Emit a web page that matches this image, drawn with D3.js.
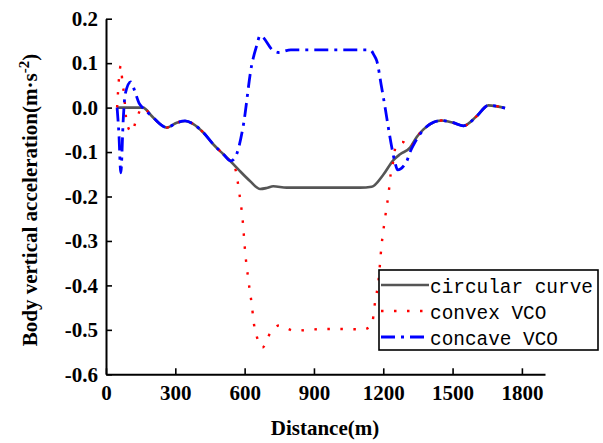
<!DOCTYPE html>
<html>
<head>
<meta charset="utf-8">
<script src="https://cdn.jsdelivr.net/npm/d3@7"></script>
<style>
  html, body { margin: 0; padding: 0; background: #fff; }
  svg { display: block; }
  .tick text { font-family: 'Liberation Serif', 'Times New Roman', serif !important; font-weight: bold !important; font-size: 21px !important; }
</style>
</head>
<body>
<svg id="chart" width="603" height="443"></svg>
<script>
// ---- data ----
const xTicks = [0, 300, 600, 900, 1200, 1500, 1800];
const yTicks = [0.2, 0.1, 0.0, -0.1, -0.2, -0.3, -0.4, -0.5, -0.6];
const seriesNames = ["circular curve", "convex VCO", "concave VCO"];

const circularDist = [48, 100, 160, 198, 234, 263, 306, 342, 378, 421, 465, 508, 551, 580, 623, 667, 695, 724, 782, 900, 1000, 1100, 1150, 1200, 1244, 1273, 1316, 1345, 1374, 1403, 1453, 1503, 1547, 1605, 1655, 1727];
const circularAcc  = [0, 0, 0, -0.019, -0.037, -0.045, -0.034, -0.030, -0.037, -0.056, -0.083, -0.105, -0.127, -0.143, -0.165, -0.183, -0.181, -0.177, -0.180, -0.180, -0.180, -0.180, -0.178, -0.151, -0.118, -0.105, -0.090, -0.066, -0.049, -0.037, -0.029, -0.034, -0.041, -0.019, 0.005, -0.001];

const convexDist = [48, 64, 70, 78, 90, 111, 133, 157, 198, 234, 263, 306, 342, 378, 421, 465, 508, 540, 558, 577, 592, 602, 616, 631, 641, 655, 677, 710, 750, 815, 900, 1000, 1114, 1150, 1165, 1179, 1193, 1208, 1225, 1232, 1244, 1254, 1283, 1316, 1345, 1374, 1403, 1453, 1503, 1547, 1605, 1655, 1727];
const convexAcc  = [0, 0.094, 0.063, 0.030, -0.035, -0.055, -0.024, 0, -0.019, -0.037, -0.045, -0.034, -0.030, -0.037, -0.056, -0.083, -0.105, -0.122, -0.135, -0.192, -0.256, -0.323, -0.387, -0.444, -0.489, -0.519, -0.540, -0.508, -0.490, -0.502, -0.499, -0.498, -0.499, -0.489, -0.436, -0.391, -0.308, -0.248, -0.184, -0.150, -0.119, -0.087, -0.077, -0.090, -0.066, -0.049, -0.037, -0.029, -0.034, -0.041, -0.019, 0.005, -0.001];

const concaveDist = [48, 56, 64, 75, 83, 107, 124, 143, 158, 198, 234, 263, 306, 342, 378, 421, 465, 508, 540, 558, 594, 630, 652, 667, 724, 746, 800, 900, 1000, 1100, 1143, 1160, 1172, 1193, 1208, 1222, 1237, 1251, 1262, 1302, 1316, 1330, 1359, 1403, 1453, 1503, 1547, 1605, 1655, 1727];
const concaveAcc  = [0, -0.060, -0.147, -0.023, 0.030, 0.058, 0.038, 0.010, 0, -0.019, -0.037, -0.045, -0.034, -0.030, -0.037, -0.056, -0.083, -0.105, -0.120, -0.113, -0.041, 0.094, 0.139, 0.162, 0.128, 0.124, 0.130, 0.130, 0.130, 0.130, 0.130, 0.118, 0.105, 0.045, 0.0, -0.045, -0.090, -0.124, -0.140, -0.120, -0.100, -0.085, -0.060, -0.037, -0.029, -0.034, -0.041, -0.019, 0.005, -0.001];

// ---- drawing ----
const svg = d3.select("#chart");
const x = d3.scaleLinear().domain([0, 1900]).range([106, 545]);
const y = d3.scaleLinear().domain([-0.6, 0.2]).range([374.3, 18.7]);

const serif = "'Liberation Serif', 'Times New Roman', serif";
const mono = "'Liberation Mono', 'DejaVu Sans Mono', monospace";

const line = d3.line().x(d => x(d[0])).y(d => y(d[1])).curve(d3.curveMonotoneX);
const zip = (a, b) => a.map((v, i) => [v, b[i]]);

const styles = [
  { color: "#555555", width: 2.6, dash: null },
  { color: "#ff0000", width: 2.4, dash: "2.5,10.5" },
  { color: "#0000ff", width: 2.8, dash: "14,6,3,6" }
];
const series = [
  zip(circularDist, circularAcc),
  zip(convexDist, convexAcc),
  zip(concaveDist, concaveAcc)
];

series.forEach((s, i) => {
  const st = styles[i];
  const p = svg.append("path")
    .datum(s)
    .attr("d", line)
    .attr("fill", "none")
    .attr("stroke", st.color)
    .attr("stroke-width", st.width)
    .attr("stroke-linejoin", "round");
  if (st.dash) p.attr("stroke-dasharray", st.dash);
});

// axes
const yAxis = d3.axisLeft(y)
  .tickValues(yTicks)
  .tickFormat(d => d.toFixed(1))
  .tickSizeInner(-6)
  .tickSizeOuter(0)
  .tickPadding(8);
const gy = svg.append("g").attr("transform", "translate(106,0)").call(yAxis);

const xAxis = d3.axisBottom(x)
  .tickValues(xTicks)
  .tickFormat(d => String(d))
  .tickSizeInner(-6)
  .tickSizeOuter(0)
  .tickPadding(11);
const gx = svg.append("g").attr("transform", "translate(0,374.3)").call(xAxis);

[gx, gy].forEach(g => {
  g.attr("font-family", serif).attr("font-size", 21).attr("font-weight", "bold");
  g.select(".domain").attr("stroke", "#000").attr("stroke-width", 2);
  g.selectAll(".tick line").attr("stroke", "#000").attr("stroke-width", 1.6);
  g.selectAll(".tick text").attr("fill", "#000");
});

// axis titles
svg.append("text")
  .attr("x", 325).attr("y", 435)
  .attr("text-anchor", "middle")
  .style("font-family", serif).style("font-weight", "bold").style("font-size", "21px")
  .text("Distance(m)");

const yt = svg.append("text")
  .attr("transform", "translate(37,200) rotate(-90)")
  .attr("text-anchor", "middle")
  .style("font-family", serif).style("font-weight", "bold").style("font-size", "21px");
yt.append("tspan").text("Body vertical acceleration(m\u00B7s");
yt.append("tspan").attr("dy", "-8").style("font-size", "15px").text("-2");
yt.append("tspan").attr("dy", "8").text(")");

// legend
const lg = svg.append("g");
lg.append("rect")
  .attr("x", 379).attr("y", 270).attr("width", 219).attr("height", 80)
  .attr("fill", "#fff").attr("stroke", "#000").attr("stroke-width", 1.6);
const rowY = [285, 311, 337];
seriesNames.forEach((name, i) => {
  const st = styles[i];
  const l = lg.append("line")
    .attr("x1", 381).attr("x2", 429).attr("y1", rowY[i]).attr("y2", rowY[i])
    .attr("stroke", st.color).attr("stroke-width", st.width);
  if (st.dash) l.attr("stroke-dasharray", st.dash);
  lg.append("text")
    .attr("x", 430).attr("y", rowY[i] + 8)
    .style("font-family", mono).style("font-size", "19.4px").attr("fill", "#000")
    .text(name);
});
</script>
</body>
</html>
